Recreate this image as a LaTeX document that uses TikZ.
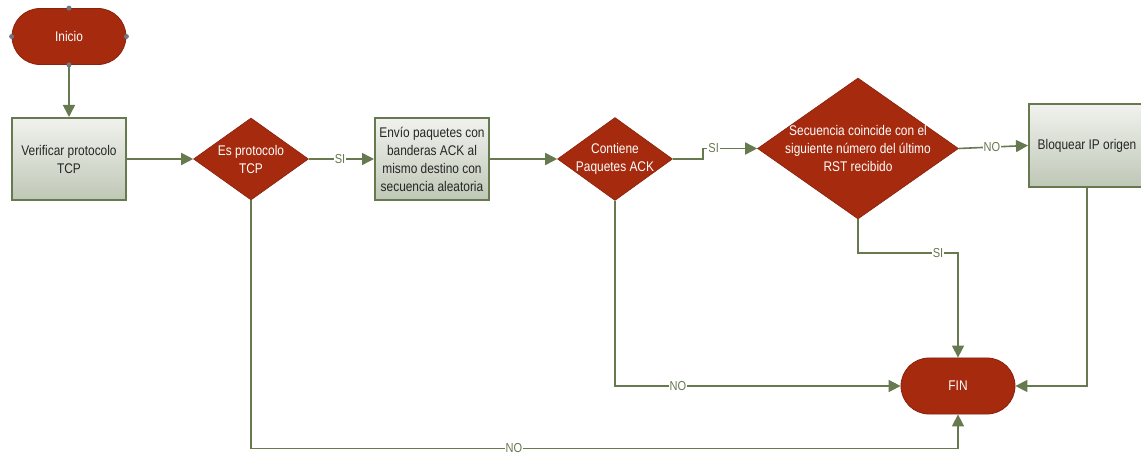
\documentclass[tikz,border=0pt]{standalone}
\usepackage{fontspec}
\setmainfont[FakeStretch=0.85]{Liberation Sans}
\usetikzlibrary{shapes.geometric,arrows.meta}
\definecolor{flowred}{HTML}{A52A0E}
\definecolor{flowredline}{HTML}{8A220C}
\definecolor{flowgreen}{HTML}{66794F}
\definecolor{boxtop}{HTML}{F1F2EE}
\definecolor{boxbot}{HTML}{BFC7B6}
\definecolor{handle}{HTML}{6E7880}
\tikzset{
  terminal/.style={draw=flowredline, line width=0.8pt, fill=flowred, rounded corners=28pt,
    minimum width=114pt, minimum height=56pt, inner sep=0pt, text=white, font=\fontsize{14}{16}\selectfont},
  process/.style={draw=flowgreen, line width=2pt, top color=boxtop, bottom color=boxbot,
    minimum width=114pt, minimum height=82pt, inner sep=0pt, align=center, text=black!85,
    font=\fontsize{14}{18}\selectfont},
  decision/.style={diamond, draw=flowredline, line width=0.6pt, fill=flowred, inner sep=0pt, aspect=1.4},
  dectext/.style={text=white, align=center, font=\fontsize{14}{18}\selectfont, inner sep=0pt},
  flow/.style={draw=flowgreen, line width=1.6pt, -{Triangle[length=12pt,width=12pt]}},
  lbl/.style={fill=white, text=flowgreen, inner sep=1pt, font=\fontsize{13}{14}\selectfont},
  grip/.style={circle, fill=handle, inner sep=0pt, minimum size=5pt}
}
\begin{document}
\begin{tikzpicture}[x=1pt, y=-1pt]
\useasboundingbox (0,0) rectangle (1141,454);

% start and end terminals
\node[terminal] (ini) at (69,36.5) {Inicio};
\node[terminal] (fin) at (958,386) {FIN};

% process boxes
\node[process] (ver) at (69,159) {Verificar protocolo\\TCP};
\node[process] (env) at (432,159) {Envío paquetes con\\banderas ACK al\\mismo destino con\\secuencia aleatoria};
\node[process, minimum width=116pt, minimum height=83pt] (blq) at (1087,145.5) {Bloquear IP origen};

% decisions
\node[decision, minimum width=115pt, minimum height=82pt] (d1) at (251,159) {};
\node[dectext] at (d1) {Es protocolo\\TCP};
\node[decision, minimum width=115pt, minimum height=83pt] (d2) at (615,159) {};
\node[dectext] at (d2) {Contiene\\Paquetes ACK};
\node[decision, minimum width=201pt, minimum height=141pt] (d3) at (858,148.5) {};
\node[dectext] at (d3) {Secuencia coincide con el\\siguiente número del último\\RST recibido};

% connectors
\draw[flow] (ini.south) -- (ver.north);
\draw[flow] (ver.east) -- (d1.west);
\draw[flow] (d1.east) -- node[lbl, pos=0.48] {SI} (env.west);
\draw[flow] (env.east) -- (d2.west);
\draw[flow] (d2.east) -- ++(30,0) |- node[lbl, pos=0.6] {SI} (d3.west);
\draw[flow] (d3.east) -- node[lbl, pos=0.48] {NO} (blq.west);
\draw[flow] (blq.south) |- (fin.east);
\draw[flow] (d3.south) -- ++(0,34) -| node[lbl, pos=0.4] {SI} (fin.north);
\draw[flow] (d2.south) |- node[lbl, pos=0.61] {NO} (fin.west);
\draw[flow] (d1.south) -- ++(0,248) -| node[lbl, pos=0.186] {NO} (fin.south);

% selection grips on the start terminal
\foreach \a in {north,south,east,west}
  \node[grip] at (ini.\a) {};
\end{tikzpicture}
\end{document}
